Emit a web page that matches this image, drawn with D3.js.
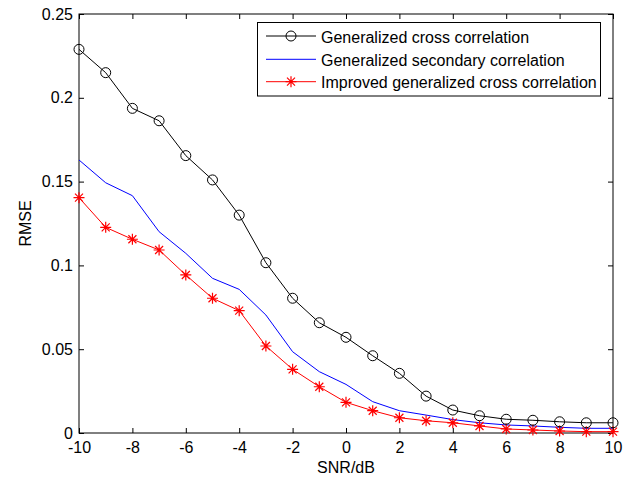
<!DOCTYPE html>
<html><head><meta charset="utf-8">
<script src="https://cdn.jsdelivr.net/npm/d3@7"></script>
<style>body{margin:0;background:#fff}svg{display:block}text{font-family:"Liberation Sans",Arial,sans-serif}</style>
</head><body>
<script>
const snr = [-10,-9,-8,-7,-6,-5,-4,-3,-2,-1,0,1,2,3,4,5,6,7,8,9,10];
const gcc = [0.2289,0.2150,0.1937,0.1863,0.1655,0.1510,0.1300,0.1016,0.0804,0.0658,0.0571,0.0461,0.0356,0.0220,0.0137,0.0103,0.0082,0.0076,0.0067,0.0061,0.0061];
const gsc = [0.1629,0.1493,0.1416,0.1201,0.1072,0.0923,0.0857,0.0704,0.0485,0.0366,0.0290,0.0187,0.0133,0.0107,0.0080,0.0061,0.0048,0.0042,0.0034,0.0028,0.0028];
const igcc = [0.1404,0.1227,0.1156,0.1092,0.0943,0.0804,0.0730,0.0519,0.0380,0.0276,0.0183,0.0133,0.0091,0.0073,0.0061,0.0042,0.0024,0.0018,0.0012,0.0008,0.0008];
const xTicks = [-10,-8,-6,-4,-2,0,2,4,6,8,10];
const yTicks = [0,0.05,0.1,0.15,0.2,0.25];
const yTickLabels = ["0","0.05","0.1","0.15","0.2","0.25"];
const seriesNames = ["Generalized cross correlation","Generalized secondary correlation","Improved generalized cross correlation"];

const W=636,H=481, L=79,R=613,T=14,B=433;
const svg=d3.select("body").append("svg").attr("width",W).attr("height",H);
const x=d3.scaleLinear().domain([-10,10]).range([L,R]);
const y=d3.scaleLinear().domain([0,0.25]).range([B,T]);
const fs=16;
const ax=svg.append("g");
ax.append("g").attr("transform",`translate(0,${B})`).call(d3.axisBottom(x).tickValues(xTicks).tickSizeInner(-5).tickSizeOuter(0).tickPadding(9).tickFormat(d=>String(d)));
ax.append("g").attr("transform",`translate(0,${T})`).call(d3.axisTop(x).tickValues(xTicks).tickSizeInner(-5).tickSizeOuter(0).tickFormat(""));
ax.append("g").attr("transform",`translate(${L},0)`).call(d3.axisLeft(y).tickValues(yTicks).tickSizeInner(-5).tickSizeOuter(0).tickPadding(6).tickFormat((d,i)=>yTickLabels[i]));
ax.append("g").attr("transform",`translate(${R},0)`).call(d3.axisRight(y).tickValues(yTicks).tickSizeInner(-5).tickSizeOuter(0).tickFormat(""));
ax.selectAll(".domain").remove();
ax.selectAll("line").attr("stroke","#000");
ax.selectAll("text").attr("font-size",fs).attr("fill","#000").attr("font-family","Liberation Sans, Arial, sans-serif");
svg.append("rect").attr("x",L).attr("y",T).attr("width",R-L).attr("height",B-T).attr("fill","none").attr("stroke","#000").attr("stroke-width",1);

svg.append("text").attr("x",(L+R)/2).attr("y",473).attr("text-anchor","middle").attr("font-size",fs).text("SNR/dB");
svg.append("text").attr("transform",`translate(31,${(T+B)/2}) rotate(-90)`).attr("text-anchor","middle").attr("font-size",fs).text("RMSE");

const line=d3.line().x((d,i)=>x(snr[i])).y(d=>y(d));
function star(g,cx,cy,c){const r=5.5,q=4;
  g.append("path").attr("d",`M${cx-r},${cy}H${cx+r}M${cx},${cy-r}V${cy+r}M${cx-q},${cy-q}L${cx+q},${cy+q}M${cx-q},${cy+q}L${cx+q},${cy-q}`).attr("stroke",c).attr("stroke-width",1.2).attr("fill","none");}

svg.append("path").datum(gsc).attr("d",line).attr("fill","none").attr("stroke","#0000ff").attr("stroke-width",1);
svg.append("path").datum(igcc).attr("d",line).attr("fill","none").attr("stroke","#ff0000").attr("stroke-width",1);
const sg=svg.append("g");
igcc.forEach((v,i)=>star(sg,x(snr[i]),y(v),"#ff0000"));
svg.append("path").datum(gcc).attr("d",line).attr("fill","none").attr("stroke","#000").attr("stroke-width",1);
svg.append("g").selectAll("circle").data(gcc).join("circle").attr("cx",(d,i)=>x(snr[i])).attr("cy",d=>y(d)).attr("r",5).attr("fill","none").attr("stroke","#000").attr("stroke-width",1);

const lg=svg.append("g");
lg.append("rect").attr("x",257.5).attr("y",22.5).attr("width",343).attr("height",73.5).attr("fill","#fff").attr("stroke","#000");
const rows=[36,59.3,81.7], cols=["#000","#0000ff","#ff0000"];
rows.forEach((ry,i)=>{
  lg.append("line").attr("x1",266).attr("x2",316).attr("y1",ry).attr("y2",ry).attr("stroke",cols[i]);
  if(i===0) lg.append("circle").attr("cx",291).attr("cy",ry).attr("r",5).attr("fill","none").attr("stroke","#000");
  if(i===2) star(lg,291,ry,"#ff0000");
  lg.append("text").attr("x",321).attr("y",ry+6.5).attr("font-size",fs).text(seriesNames[i]);
});
</script>
</body></html>
